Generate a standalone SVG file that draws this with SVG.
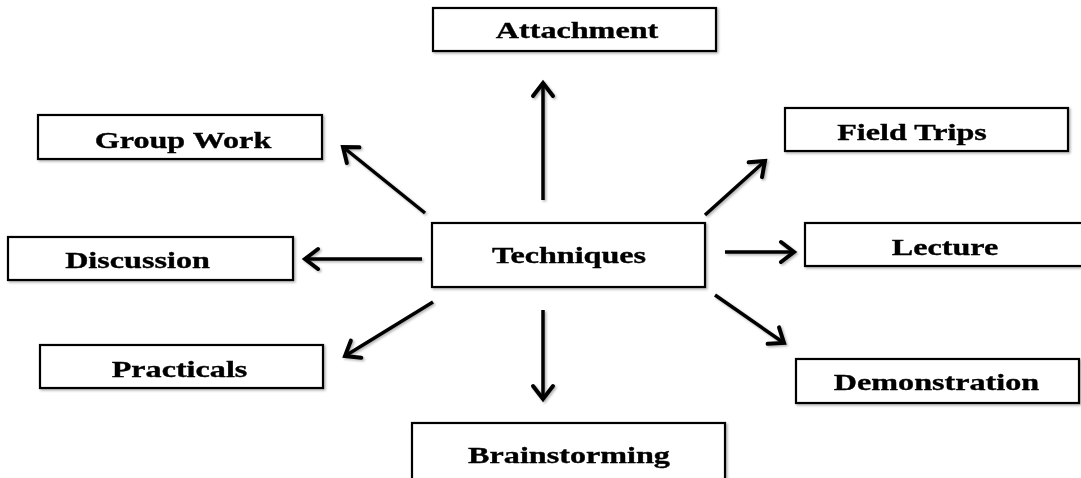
<svg xmlns="http://www.w3.org/2000/svg" width="1081" height="478" viewBox="0 0 1081 478">
<style>
.box{fill:#fff;stroke:#000;stroke-width:2.2}
.lbl{font-family:"Liberation Serif","Times New Roman",serif;font-weight:bold;font-size:24px;fill:#000;stroke:#000;stroke-width:0.35;text-anchor:middle}
.con{stroke:#000;stroke-width:3.5;fill:none;marker-end:url(#arr)}
</style>
<defs>
<filter id="sh" x="-10%" y="-10%" width="130%" height="130%">
<feDropShadow dx="1.5" dy="1.5" stdDeviation="1" flood-color="#000" flood-opacity="0.3"/>
</filter>
<marker id="arr" markerUnits="userSpaceOnUse" viewBox="-16 -14 20 28" refX="0" refY="0" markerWidth="20" markerHeight="28" orient="auto">
<path d="M-13,-10 L0,0 L-13,10" fill="none" stroke="#000" stroke-width="4" stroke-linecap="round" stroke-linejoin="miter"/>
</marker>
</defs>
<g id="connectors" filter="url(#sh)">
<line class="con" x1="543" y1="200" x2="543" y2="83"/>
<line class="con" x1="425" y1="213" x2="343" y2="147"/>
<line class="con" x1="705" y1="215" x2="765" y2="161"/>
<line class="con" x1="422" y1="259" x2="305" y2="259"/>
<line class="con" x1="725" y1="252" x2="794" y2="252"/>
<line class="con" x1="433" y1="302" x2="345" y2="356"/>
<line class="con" x1="715" y1="295" x2="784" y2="343"/>
<line class="con" x1="543" y1="310" x2="543" y2="399"/>
</g>
<g id="attachment" filter="url(#sh)">
<rect class="box" x="433" y="8" width="283" height="43"/>
<text class="lbl" transform="translate(577,38) scale(1.34,1)">Attachment</text>
</g>
<g id="group-work" filter="url(#sh)">
<rect class="box" x="38" y="115" width="284" height="44"/>
<text class="lbl" transform="translate(183,148) scale(1.34,1)">Group Work</text>
</g>
<g id="field-trips" filter="url(#sh)">
<rect class="box" x="785" y="108" width="283" height="43"/>
<text class="lbl" transform="translate(912,140) scale(1.34,1)">Field Trips</text>
</g>
<g id="techniques" filter="url(#sh)">
<rect class="box" x="432" y="223" width="273" height="64"/>
<text class="lbl" transform="translate(569,263) scale(1.34,1)">Techniques</text>
</g>
<g id="discussion" filter="url(#sh)">
<rect class="box" x="8" y="237" width="285" height="43"/>
<text class="lbl" transform="translate(137.5,268) scale(1.34,1)">Discussion</text>
</g>
<g id="lecture" filter="url(#sh)">
<rect class="box" x="805" y="223" width="290" height="43"/>
<text class="lbl" transform="translate(945,255) scale(1.34,1)">Lecture</text>
</g>
<g id="practicals" filter="url(#sh)">
<rect class="box" x="40" y="345" width="283" height="43"/>
<text class="lbl" transform="translate(179.5,377) scale(1.34,1)">Practicals</text>
</g>
<g id="demonstration" filter="url(#sh)">
<rect class="box" x="796" y="359" width="283" height="44"/>
<text class="lbl" transform="translate(936.5,390) scale(1.34,1)">Demonstration</text>
</g>
<g id="brainstorming" filter="url(#sh)">
<rect class="box" x="412" y="423" width="313" height="70"/>
<text class="lbl" transform="translate(569,463) scale(1.34,1)">Brainstorming</text>
</g>
</svg>
